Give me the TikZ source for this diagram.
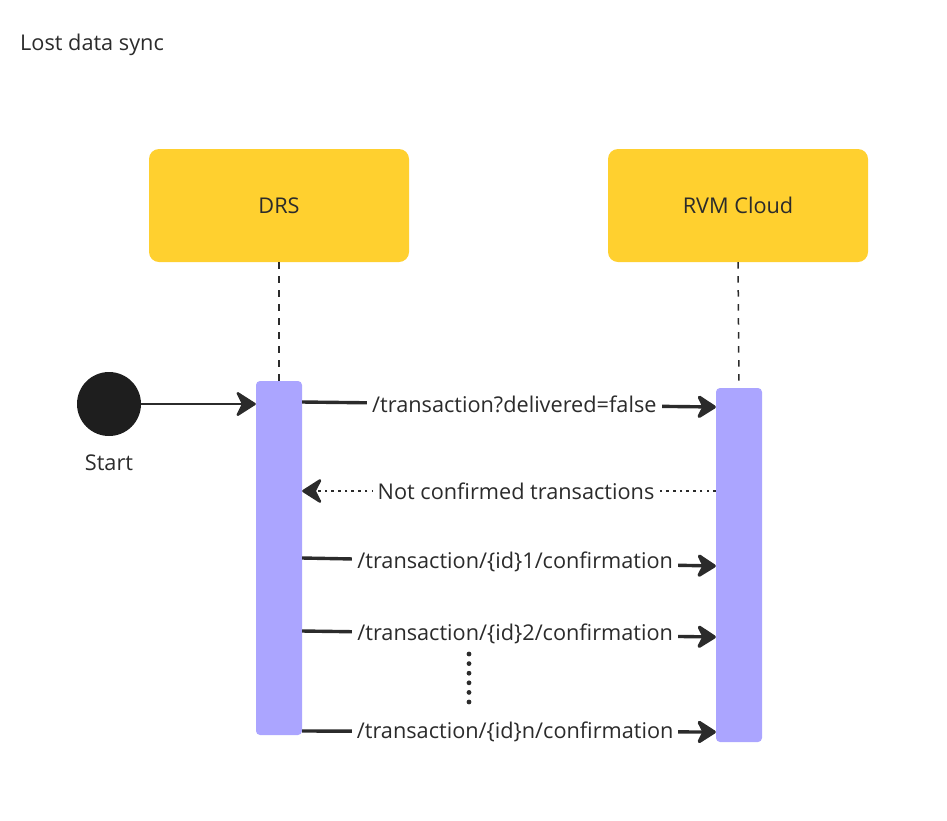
\documentclass[tikz,border=0pt]{standalone}
\usepackage{fontspec}
\setmainfont{Open Sans}
\usetikzlibrary{arrows.meta}
\definecolor{boxyellow}{HTML}{FFD02F}
\definecolor{barpurple}{HTML}{ABA5FF}
\definecolor{inkgray}{HTML}{2B2B2B}
\definecolor{startblack}{HTML}{1E1E1E}
\newcommand{\lblfont}{\fontsize{21.7}{26}\selectfont}
\tikzset{
  actorbox/.style={draw=none, fill=boxyellow, rounded corners=10pt, minimum width=260pt, minimum height=113pt, inner sep=0pt, text=inkgray, font=\lblfont},
  actbar/.style={draw=none, fill=barpurple, rounded corners=4pt, minimum width=46pt, inner sep=0pt},
  lifeline/.style={draw=inkgray, line width=1.5pt, dash pattern=on 6.5pt off 7.5pt},
  msg/.style={draw=inkgray, line width=3.4pt, -{Stealth[length=22pt, width=28pt, inset=7pt, line join=round]}},
  reply/.style={draw=inkgray, line width=2.6pt, dash pattern=on 2.6pt off 4.1pt, -{Stealth[length=22pt, width=28pt, inset=7pt, line join=round]}},
  msglabel/.style={fill=white, text=inkgray, inner sep=5pt, font=\lblfont},
  plainlabel/.style={text=inkgray, inner sep=0pt, font=\lblfont},
}
\begin{document}
\begin{tikzpicture}[x=1pt, y=-1pt]
\useasboundingbox (0,0) rectangle (947,820);
% title
\node[plainlabel, anchor=west] (title) at (20,44.5) {Lost data sync};
% actors
\node[actorbox] (drs) at (279,205.5) {DRS};
\node[actorbox] (rvm) at (738,205.5) {RVM Cloud};
% activation bars
\node[actbar, minimum height=354pt] (drsbar) at (279,558) {};
\node[actbar, minimum height=354pt] (rvmbar) at (739,565) {};
% lifelines
\draw[lifeline] (drs.south) -- (drsbar.north);
\draw[lifeline] (rvm.south) -- (rvmbar.north);
% start
\node[circle, fill=startblack, minimum size=64pt, inner sep=0pt] (start) at (109,404) {};
\node[plainlabel] (startlbl) at (109,463) {Start};
\draw[draw=inkgray, line width=2.4pt, -{Stealth[length=22pt, width=28pt, inset=7pt, line join=round]}] (start.east) -- (drsbar.west |- start.east);
% messages
\coordinate (m1a) at (drsbar.east |- 0,402);
\coordinate (m1b) at (rvmbar.west |- 0,407);
\draw[msg] (m1a) -- node[msglabel, pos=0.513] {/transaction?delivered=false} (m1b);
\coordinate (r1a) at (rvmbar.west |- 0,491);
\coordinate (r1b) at (drsbar.east |- 0,491);
\draw[reply] (r1a) -- node[msglabel, pos=0.483] {Not confirmed transactions} (r1b);
\coordinate (m2a) at (drsbar.east |- 0,558);
\coordinate (m2b) at (rvmbar.west |- 0,566);
\draw[msg] (m2a) -- node[msglabel, pos=0.515] {/transaction/\{id\}1/confirmation} (m2b);
\coordinate (m3a) at (drsbar.east |- 0,631);
\coordinate (m3b) at (rvmbar.west |- 0,637);
\draw[msg] (m3a) -- node[msglabel, pos=0.515] {/transaction/\{id\}2/confirmation} (m3b);
\coordinate (m4a) at (drsbar.east |- 0,731);
\coordinate (m4b) at (rvmbar.west |- 0,732);
\draw[msg] (m4a) -- node[msglabel, pos=0.515] {/transaction/\{id\}n/confirmation} (m4b);
% vertical ellipsis
\foreach \i in {0,...,5} {
  \fill[inkgray] (469,654+9.6*\i) circle (2.4pt);
}
\end{tikzpicture}
\end{document}
